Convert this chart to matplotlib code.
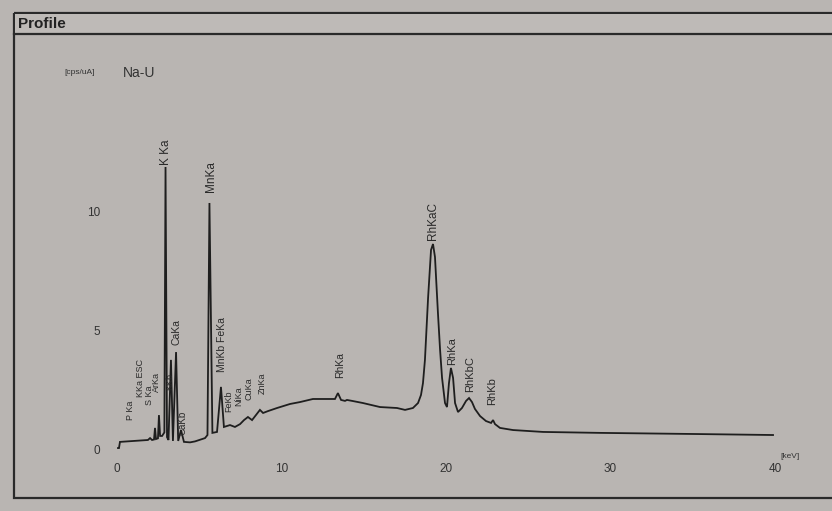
import matplotlib
matplotlib.use("Agg")
import matplotlib.pyplot as plt
from matplotlib.patches import Rectangle

plt.rcParams['font.family'] = ['Liberation Sans', 'DejaVu Sans']

# spectrum (energy in keV, intensity in cps/uA)
energy = [0.06, 0.12, 0.18, 1.88, 2.01, 2.13, 2.25, 2.31, 2.37, 2.49, 2.55, 2.62, 2.74,
          2.88, 2.95, 3.04, 3.13, 3.28, 3.40, 3.59, 3.72, 3.89, 4.07, 4.44, 4.74, 5.35,
          5.50, 5.62, 5.80, 6.08, 6.32, 6.50, 6.87, 7.17, 7.48, 7.72, 7.96, 8.21, 8.69,
          8.88, 9.18, 9.73, 10.52, 11.12, 11.91, 13.25, 13.43, 13.62, 13.86, 13.98, 14.29,
          14.95, 15.99, 17.02, 17.51, 17.99, 18.30, 18.48, 18.60, 18.72, 18.91, 19.09,
          19.21, 19.33, 19.51, 19.64, 19.76, 19.94, 20.06, 20.18, 20.30, 20.43, 20.55,
          20.73, 20.97, 21.22, 21.40, 21.58, 21.76, 22.07, 22.43, 22.74, 22.86, 22.98,
          23.28, 24.07, 25.90, 29.36, 35.44, 39.88]
counts = [0.04, 0.04, 0.30, 0.38, 0.46, 0.38, 0.40, 0.89, 0.42, 0.45, 1.43, 0.55, 0.55,
          0.70, 11.90, 0.50, 0.38, 3.76, 0.34, 4.09, 0.34, 0.80, 0.30, 0.28, 0.32, 0.46,
          0.59, 10.38, 0.68, 0.72, 2.62, 0.93, 1.01, 0.93, 1.05, 1.22, 1.35, 1.22, 1.65,
          1.52, 1.60, 1.73, 1.90, 1.98, 2.11, 2.11, 2.36, 2.07, 2.03, 2.07, 2.03,
          1.94, 1.77, 1.73, 1.65, 1.73, 1.94, 2.28, 2.78, 3.76, 6.37, 8.40,
          8.65, 8.10, 5.74, 4.18, 3.00, 1.94, 1.77, 2.78, 3.42, 3.00, 1.94,
          1.56, 1.73, 2.03, 2.15, 1.98, 1.69, 1.39, 1.18, 1.10, 1.22, 1.05,
          0.89, 0.80, 0.72, 0.68, 0.63, 0.59]

x_ticks = [0, 10, 20, 30, 40]
y_ticks = [0, 5, 10]

# peak labels: (text, energy, label base in cps, font size)
peak_labels = [
    ("K Ka", 2.95, 12.0, 8.5),
    ("MnKa", 5.70, 10.84, 8.5),
    ("RhKaC", 19.21, 8.82, 8.5),
    ("RhKa", 20.37, 3.54, 8),
    ("RhKbC", 21.46, 2.40, 8),
    ("RhKb", 22.80, 1.86, 8),
    ("RhKa", 13.56, 3.00, 7.5),
    ("MnKb FeKa", 6.38, 3.25, 7.5),
    ("CaKa", 3.59, 4.39, 7.5),
    ("CaKb", 4.01, 0.60, 7),
    ("P Ka", 0.85, 1.22, 6.5),
    ("KKa ESC", 1.40, 2.19, 6.5),
    ("S Ka", 1.95, 1.86, 6.5),
    ("ArKa", 2.43, 2.40, 6.5),
    ("KKb", 3.22, 2.49, 6.5),
    ("FeKb", 6.80, 1.55, 6.5),
    ("NiKa", 7.40, 1.80, 6.5),
    ("CuKa", 8.05, 2.05, 6.5),
    ("ZnKa", 8.80, 2.30, 6.5),
]

W, H = 832, 511
bg = '#b9b5b2'
ink = '#1e1e1e'
fig = plt.figure(figsize=(W / 100, H / 100), dpi=100, facecolor=bg)

# frame of the printout
frame = fig.add_axes([0, 0, 1, 1], facecolor='none')
frame.set_xlim(0, W)
frame.set_ylim(H, 0)
frame.axis('off')
frame.add_patch(Rectangle((14, 13), 830, 485, fill=False, ec='#2a2a2a', lw=1.6))
frame.plot([14, 832], [34, 34], color='#2a2a2a', lw=1.6)
frame.add_patch(Rectangle((15, 14), 820, 20, fc='#bebab7', ec='none'))
frame.text(18, 24, "Profile", fontsize=11, fontweight='bold', color='#222222',
           va='center', ha='left')
frame.text(64, 73, "[cps/uA]", fontsize=6, color='#333333', va='center', ha='left')
frame.text(123, 73, "Na-U", fontsize=10, color='#333333', va='center', ha='left')

# spectrum axes: 0 keV at x=117 px, 40 keV at x=775 px; 0 at y=449, 10 at y=212
left, right = 117 / W, 775 / W
bottom = 1 - 449 / H
height = (449 - 212) / H
ax = fig.add_axes([left, bottom, right - left, height], facecolor='none')
ax.set_xlim(0, 40)
ax.set_ylim(0, 10)
ax.plot(energy, counts, color=ink, lw=1.3, clip_on=False, solid_joinstyle='miter')
for s in ax.spines.values():
    s.set_visible(False)
ax.set_xticks(x_ticks)
ax.set_xticklabels([str(t) for t in x_ticks])
ax.set_yticks(y_ticks)
ax.set_yticklabels([str(t) for t in y_ticks])
ax.tick_params(length=0, labelsize=8.5, colors='#333333', pad=10)
ax.tick_params(axis='y', pad=12)
ax.text(40.35, -0.3, "[keV]", fontsize=6, color='#333333', va='center', ha='left')

for txt, e, yb, fs in peak_labels:
    ax.text(e, yb, txt, rotation=90, ha='center', va='bottom', fontsize=fs,
            color='#2a2a2a', clip_on=False)

fig.savefig("out.png", dpi=100, facecolor=bg)
